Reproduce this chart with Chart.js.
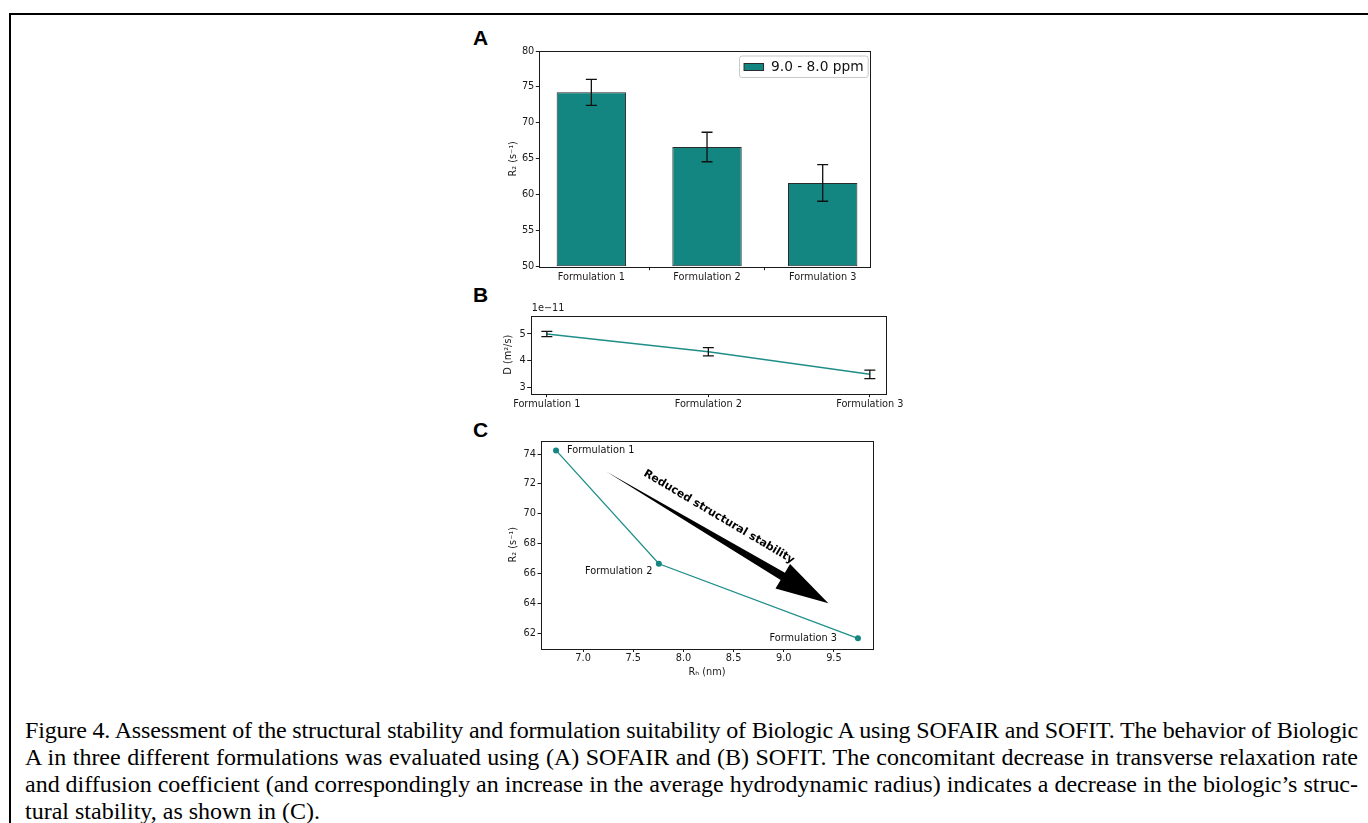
<!DOCTYPE html>
<html>
<head>
<meta charset="utf-8">
<script src="https://cdn.jsdelivr.net/npm/chart.js@4.4.0/dist/chart.umd.min.js"></script>
<style>
body { margin: 0; background: #fff; }
#page { position: relative; width: 1368px; height: 823px; overflow: hidden; }
.frame { position: absolute; left: 9px; top: 13px; right: -5px; bottom: -5px; border-top: 2.8px solid #000; border-left: 2.5px solid #000; }
.panel { position: absolute; left: 473px; font: bold 21px "Liberation Sans", Arial, sans-serif; line-height: 21px; }
canvas { position: absolute; }
.caption { position: absolute; left: 25px; top: 716.6px; width: 1333px; font: 24px "Liberation Serif", "Times New Roman", serif; line-height: 27.3px; color: #000; }
.caption .line { white-space: nowrap; }
</style>
</head>
<body>
<div id="page">
  <div class="frame"></div>
  <div class="panel" style="top:27px">A</div>
  <div class="panel" style="top:284px">B</div>
  <div class="panel" style="top:419px">C</div>
  <canvas id="chartA" width="420" height="260" style="left:470px; top:40px"></canvas>
  <canvas id="chartB" width="450" height="115" style="left:470px; top:300px"></canvas>
  <canvas id="chartC" width="420" height="260" style="left:470px; top:425px"></canvas>
  <div class="caption">
    <div class="line j"><span>Figure 4. Assessment of the structural stability and formulation suitability of Biologic A using SOFAIR and SOFIT. The behavior of Biologic</span></div>
    <div class="line j"><span>A in three different formulations was evaluated using (A) SOFAIR and (B) SOFIT. The concomitant decrease in transverse relaxation rate</span></div>
    <div class="line j"><span>and diffusion coefficient (and correspondingly an increase in the average hydrodynamic radius) indicates a decrease in the biologic’s struc-</span></div>
    <div class="line"><span>tural stability, as shown in (C).</span></div>
  </div>
</div>
<script>
const formulations = ['Formulation 1', 'Formulation 2', 'Formulation 3'];
const formulationPos = [0, 1, 2];

// A: R2 from SOFAIR (9.0 - 8.0 ppm)
const r2Values = [74.25, 66.65, 61.65];
const r2Errors = [1.8, 2.05, 2.55];
const r2Ticks = [50, 55, 60, 65, 70, 75, 80];

// B: diffusion coefficient from SOFIT, m^2/s
const diffValues = [5.0e-11, 4.34e-11, 3.5e-11];
const diffErrors = [0.1e-11, 0.15e-11, 0.16e-11];
const diffTicks = [3e-11, 4e-11, 5e-11];

// C: hydrodynamic radius (nm) against R2
const rhValues = [6.73, 7.755, 9.74];
const rhTicks = [7.0, 7.5, 8.0, 8.5, 9.0, 9.5];
const r2TicksC = [62, 64, 66, 68, 70, 72, 74];

const teal = '#138682';
const lineTeal = '#1f8e89';
const ink = '#1a1a1a';
const tickFont = { family: 'DejaVu Sans', size: 9.75 };

// arrow in panel C, in data units
const arrowStart = [7.23, 72.83];
const arrowEnd = [9.445, 64.0];
const arrowTextAt = [8.354, 69.79];

// justify the caption lines to the full width; squeeze letters if a line is too long
document.querySelectorAll('.caption .j span').forEach(sp => {
    const target = 1333;
    const natural = sp.getBoundingClientRect().width;
    if (natural > target) {
        sp.style.letterSpacing = ((target - natural) / sp.textContent.length) + 'px';
    }
    const now = sp.getBoundingClientRect().width;
    const gaps = (sp.textContent.match(/ /g) || []).length;
    sp.style.wordSpacing = ((target - now) / gaps) + 'px';
});

function gridOpts() {
    return { display: true, drawOnChartArea: false, drawTicks: true, tickLength: 3.5, color: ink, lineWidth: 1 };
}

function fixTicks(list) {
    return scale => { scale.ticks = list.map(v => ({ value: v })); };
}

// closes the axes box like matplotlib spines
const boxPlugin = {
    id: 'box',
    afterDraw(chart) {
        const a = chart.chartArea, ctx = chart.ctx;
        ctx.save();
        ctx.strokeStyle = ink;
        ctx.lineWidth = 1;
        ctx.strokeRect(Math.round(a.left) + 0.5, Math.round(a.top) + 0.5, Math.round(a.right - a.left), Math.round(a.bottom - a.top));
        ctx.restore();
    }
};

const errorBarPlugin = {
    id: 'errorBars',
    afterDatasetsDraw(chart, args, opts) {
        if (!opts.errors) return;
        const meta = chart.getDatasetMeta(0);
        const ys = chart.scales.y, ctx = chart.ctx;
        const vals = chart.data.datasets[0].data;
        const cap = opts.cap;
        ctx.save();
        ctx.strokeStyle = '#111';
        ctx.lineWidth = 1.3;
        meta.data.forEach((el, i) => {
            const v = vals[i].y, e = opts.errors[i];
            const x = el.x;
            const y1 = ys.getPixelForValue(v + e), y2 = ys.getPixelForValue(v - e);
            ctx.beginPath();
            ctx.moveTo(x, y1); ctx.lineTo(x, y2);
            ctx.moveTo(x - cap, y1); ctx.lineTo(x + cap, y1);
            ctx.moveTo(x - cap, y2); ctx.lineTo(x + cap, y2);
            ctx.stroke();
        });
        ctx.restore();
    }
};

const legendPlugin = {
    id: 'boxLegend',
    afterDraw(chart) {
        const a = chart.chartArea, ctx = chart.ctx, ds = chart.data.datasets[0];
        ctx.save();
        ctx.font = '13.75px "DejaVu Sans"';
        const tw = ctx.measureText(ds.label).width;
        const w = tw + 36, h = 21.5;
        const x = a.right - 2.5 - w, y = a.top + 5;
        ctx.fillStyle = 'rgba(255,255,255,0.8)';
        ctx.strokeStyle = '#c8c8c8';
        ctx.lineWidth = 1;
        ctx.beginPath();
        ctx.roundRect(x, y, w, h, 2.5);
        ctx.fill();
        ctx.stroke();
        ctx.fillStyle = ds.backgroundColor;
        ctx.strokeStyle = ds.borderColor;
        ctx.fillRect(x + 4.5, y + 7.5, 19.5, 7);
        ctx.strokeRect(x + 4.5, y + 7.5, 19.5, 7);
        ctx.fillStyle = '#111';
        ctx.textBaseline = 'middle';
        ctx.fillText(ds.label, x + 31.5, y + h / 2 + 0.5);
        ctx.restore();
    }
};

const offsetTextPlugin = {
    id: 'offsetText',
    afterDraw(chart) {
        const a = chart.chartArea, ctx = chart.ctx;
        ctx.save();
        ctx.font = '9.75px "DejaVu Sans"';
        ctx.fillStyle = ink;
        ctx.textBaseline = 'alphabetic';
        ctx.fillText('1e\u221211', a.left + 1, a.top - 4.5);
        ctx.restore();
    }
};

const annotatePlugin = {
    id: 'annotate',
    afterDatasetsDraw(chart) {
        const xs = chart.scales.x, ys = chart.scales.y, ctx = chart.ctx;
        const px = p => [xs.getPixelForValue(p[0]), ys.getPixelForValue(p[1])];
        const labelOffsets = [[11, 0.5, 'left'], [-6.5, 7.4, 'right'], [-21, 0.5, 'right']];
        ctx.save();
        ctx.font = '9.75px "DejaVu Sans"';
        ctx.fillStyle = '#111';
        ctx.textBaseline = 'middle';
        formulations.forEach((name, i) => {
            const x = xs.getPixelForValue(rhValues[i]), y = ys.getPixelForValue(r2Values[i]);
            const o = labelOffsets[i];
            ctx.textAlign = o[2];
            ctx.fillText(name, x + o[0], y + o[1]);
        });

        const [x0, y0] = px(arrowStart), [x1, y1] = px(arrowEnd);
        const dx = x1 - x0, dy = y1 - y0, len = Math.hypot(dx, dy);
        const ux = dx / len, uy = dy / len, nx = -uy, ny = ux;
        const headLen = 53, headHalf = 14.3, shaftHalf = 4.2;
        const bx = x1 - ux * headLen, by = y1 - uy * headLen;
        ctx.fillStyle = '#000';
        ctx.beginPath();
        ctx.moveTo(x0, y0);
        ctx.lineTo(bx + nx * shaftHalf, by + ny * shaftHalf);
        ctx.lineTo(bx + nx * headHalf, by + ny * headHalf);
        ctx.lineTo(x1, y1);
        ctx.lineTo(bx - nx * headHalf, by - ny * headHalf);
        ctx.lineTo(bx - nx * shaftHalf, by - ny * shaftHalf);
        ctx.closePath();
        ctx.fill();

        const [tx, ty] = px(arrowTextAt);
        ctx.translate(tx, ty);
        ctx.rotate(Math.atan2(dy, dx));
        ctx.font = 'bold 11px "DejaVu Sans"';
        ctx.textAlign = 'center';
        ctx.fillStyle = '#000';
        ctx.fillText('Reduced structural stability', 0, 0);
        ctx.restore();
    }
};

function axisTitle(text, pad) {
    return { display: true, text: text, color: ink, font: tickFont, padding: pad };
}

// Panel A
new Chart(document.getElementById('chartA'), {
    type: 'bar',
    data: {
        datasets: [{
            label: '9.0 - 8.0 ppm',
            data: formulationPos.map((x, i) => ({ x: x, y: r2Values[i] })),
            backgroundColor: teal,
            borderColor: '#2b2b2b',
            borderWidth: 1,
            borderSkipped: false,
            barPercentage: 0.6,
            categoryPercentage: 1,
            base: r2Ticks[0]
        }]
    },
    options: {
        responsive: false,
        animation: false,
        layout: { padding: { top: 11, right: 19.3, left: 0, bottom: 0 } },
        plugins: {
            legend: { display: false },
            tooltip: { enabled: false },
            errorBars: { errors: r2Errors, cap: 5.5 }
        },
        scales: {
            x: {
                type: 'linear', min: -0.45, max: 2.415, offset: false,
                afterBuildTicks: fixTicks(formulationPos),
                afterFit: s => { s.height = 33.3; },
                ticks: { autoSkip: false, maxRotation: 0, padding: 1, color: ink, font: tickFont, callback: (v, i) => formulations[i] },
                grid: gridOpts(),
                border: { display: false }
            },
            y: {
                min: r2Ticks[0], max: r2Ticks[r2Ticks.length - 1],
                afterBuildTicks: fixTicks(r2Ticks),
                afterFit: s => { s.width = 69.3; },
                ticks: { padding: 1.5, color: ink, font: tickFont },
                grid: gridOpts(),
                border: { display: false },
                title: axisTitle('R\u2082 (s\u207B\u00B9)', { top: 37.15, bottom: 0 })
            }
        }
    },
    plugins: [errorBarPlugin, boxPlugin, legendPlugin]
});

// Panel B
new Chart(document.getElementById('chartB'), {
    type: 'line',
    data: {
        datasets: [{
            label: 'D',
            data: formulationPos.map((x, i) => ({ x: x, y: diffValues[i] })),
            borderColor: lineTeal,
            borderWidth: 1.5,
            pointRadius: 0,
            fill: false
        }]
    },
    options: {
        responsive: false,
        animation: false,
        layout: { padding: { top: 15.7, right: 34, left: 0, bottom: 0 } },
        plugins: {
            legend: { display: false },
            tooltip: { enabled: false },
            errorBars: { errors: diffErrors, cap: 5.5 }
        },
        scales: {
            x: {
                type: 'linear', min: -0.1, max: 2.1,
                afterBuildTicks: fixTicks(formulationPos),
                afterFit: s => { s.height = 21.3; },
                ticks: { autoSkip: false, maxRotation: 0, padding: 1, color: ink, font: tickFont, callback: (v, i) => formulations[i] },
                grid: gridOpts(),
                border: { display: false }
            },
            y: {
                min: 2.78e-11, max: 5.68e-11,
                afterBuildTicks: fixTicks(diffTicks),
                afterFit: s => { s.width = 60.7; },
                ticks: { padding: 1.5, color: ink, font: tickFont, callback: v => String(Math.round(v / 1e-11)) },
                grid: gridOpts(),
                border: { display: false },
                title: axisTitle('D (m\u00B2/s)', { top: 32.15, bottom: 0 })
            }
        }
    },
    plugins: [errorBarPlugin, boxPlugin, offsetTextPlugin]
});

// Panel C
new Chart(document.getElementById('chartC'), {
    type: 'line',
    data: {
        datasets: [{
            label: 'R2 vs Rh',
            data: rhValues.map((x, i) => ({ x: x, y: r2Values[i] })),
            borderColor: lineTeal,
            borderWidth: 1.3,
            pointRadius: 3,
            pointBackgroundColor: teal,
            pointBorderWidth: 0,
            fill: false
        }]
    },
    options: {
        responsive: false,
        animation: false,
        layout: { padding: { top: 16, right: 17, left: 0, bottom: 0 } },
        plugins: {
            legend: { display: false },
            tooltip: { enabled: false }
        },
        scales: {
            x: {
                type: 'linear', min: 6.58, max: 9.89,
                afterBuildTicks: fixTicks(rhTicks),
                afterFit: s => { s.height = 36.5; },
                ticks: { autoSkip: false, maxRotation: 0, padding: 1, color: ink, font: tickFont, callback: v => v.toFixed(1) },
                grid: gridOpts(),
                border: { display: false },
                title: axisTitle('R\u2095 (nm)', { top: 0, bottom: 6.45 })
            },
            y: {
                min: 60.97, max: 74.88,
                afterBuildTicks: fixTicks(r2TicksC),
                afterFit: s => { s.width = 71; },
                ticks: { padding: 1.5, color: ink, font: tickFont },
                grid: gridOpts(),
                border: { display: false },
                title: axisTitle('R\u2082 (s\u207B\u00B9)', { top: 37.15, bottom: 0 })
            }
        }
    },
    plugins: [boxPlugin, annotatePlugin]
});
</script>
</body>
</html>
